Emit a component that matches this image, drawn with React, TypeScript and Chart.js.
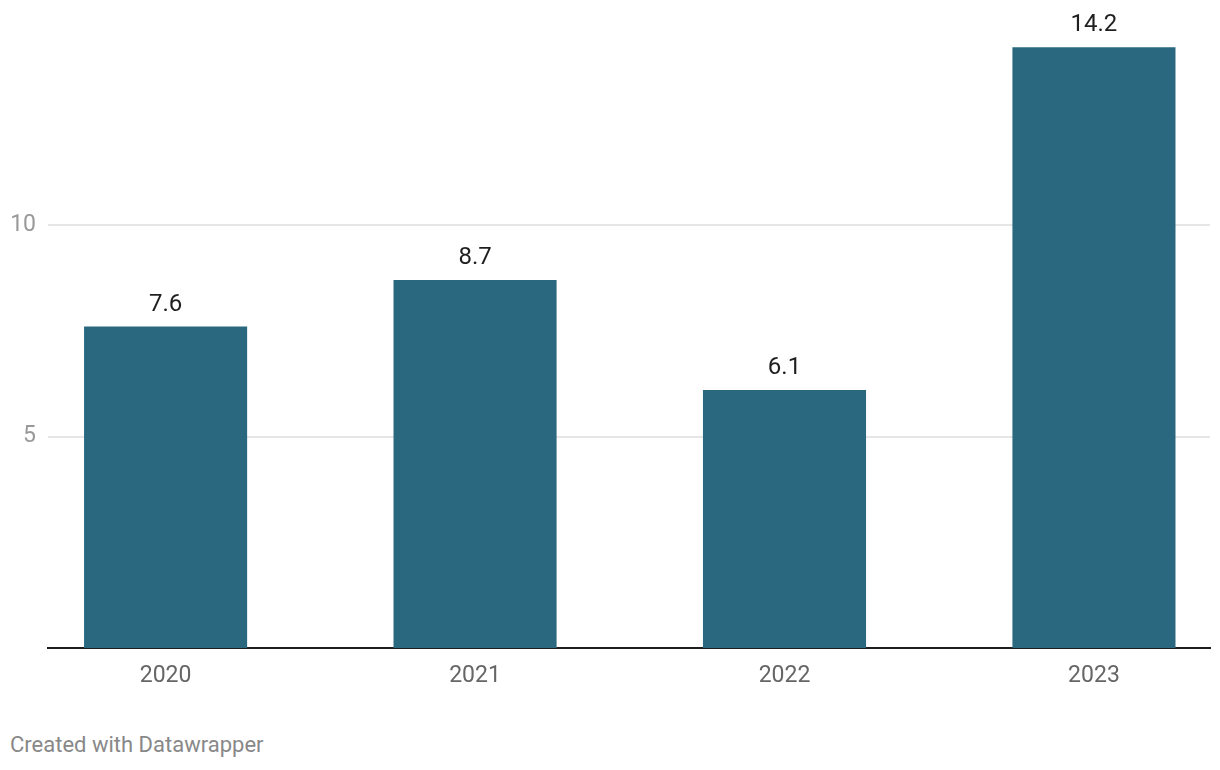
import React, { useEffect, useRef } from "react";
import { Chart, registerables } from "chart.js";

Chart.register(...registerables);

const categories: string[] = ["2020", "2021", "2022", "2023"];
const values: number[] = [7.6, 8.7, 6.1, 14.2];
const yTickValues: number[] = [5, 10];
const yMax = 15;

const valueLabelPlugin = {
  id: "valueLabels",
  afterDatasetsDraw(chart: any) {
    const { ctx } = chart;
    const meta = chart.getDatasetMeta(0);
    ctx.save();
    ctx.font = "24px Roboto";
    ctx.fillStyle = "#1f1f1f";
    ctx.textAlign = "center";
    ctx.textBaseline = "alphabetic";
    meta.data.forEach((bar: any, i: number) => {
      ctx.fillText(String(values[i]), bar.x, bar.y - 16);
    });
    ctx.restore();
  },
};

export default function App() {
  const canvasRef = useRef<HTMLCanvasElement | null>(null);

  useEffect(() => {
    if (!canvasRef.current) return;
    Chart.defaults.font.family = "Roboto";
    const chart = new Chart(canvasRef.current, {
      type: "bar",
      data: {
        datasets: [
          {
            data: values.map((v, i) => ({ x: i, y: v })),
            backgroundColor: "#2a6880",
            borderWidth: 0,
            barPercentage: 0.527,
            categoryPercentage: 1,
          },
        ],
      },
      options: {
        animation: false,
        responsive: false,
        devicePixelRatio: 1,
        layout: { padding: { left: 0, right: 10, top: 13.5, bottom: 0 } },
        plugins: {
          legend: { display: false },
          tooltip: { enabled: false },
        },
        scales: {
          x: {
            type: "linear",
            bounds: "data",
            offset: false,
            min: -0.38,
            max: 3.375,
            z: 1,
            afterBuildTicks: (scale: any) => {
              scale.ticks = categories.map((_, i) => ({ value: i }));
            },
            afterFit: (scale: any) => {
              scale.height = 52;
              scale.paddingLeft = 0;
              scale.paddingRight = 0;
            },
            grid: { display: false, drawTicks: false, offset: false },
            border: { display: true, color: "#1d1d1d", width: 2 },
            ticks: {
              color: "#666666",
              font: { size: 23 },
              padding: 14,
              maxRotation: 0,
              autoSkip: false,
              callback: (v: any) => categories[v] ?? "",
            },
          },
          y: {
            min: 0,
            max: yMax,
            afterBuildTicks: (scale: any) => {
              scale.ticks = yTickValues.map((v) => ({ value: v }));
            },
            afterFit: (scale: any) => {
              scale.width = 48;
              scale.paddingTop = 0;
              scale.paddingBottom = 0;
            },
            grid: { color: "#e6e6e6", lineWidth: 2, drawTicks: false },
            border: { display: false },
            ticks: {
              color: "#999999",
              font: { size: 23 },
              padding: 12,
            },
          },
        },
      },
      plugins: [valueLabelPlugin],
    });
    return () => chart.destroy();
  }, []);

  return (
    <div style={{ position: "absolute", left: 0, top: 0, width: 1220, height: 770, background: "#fff" }}>
      <canvas ref={canvasRef} width={1220} height={700} style={{ display: "block" }} />
      <div
        style={{
          position: "absolute",
          left: 10,
          top: 732,
          fontFamily: "Roboto",
          fontSize: 22,
          color: "#888888",
          whiteSpace: "nowrap",
        }}
      >
        Created with Datawrapper
      </div>
    </div>
  );
}
